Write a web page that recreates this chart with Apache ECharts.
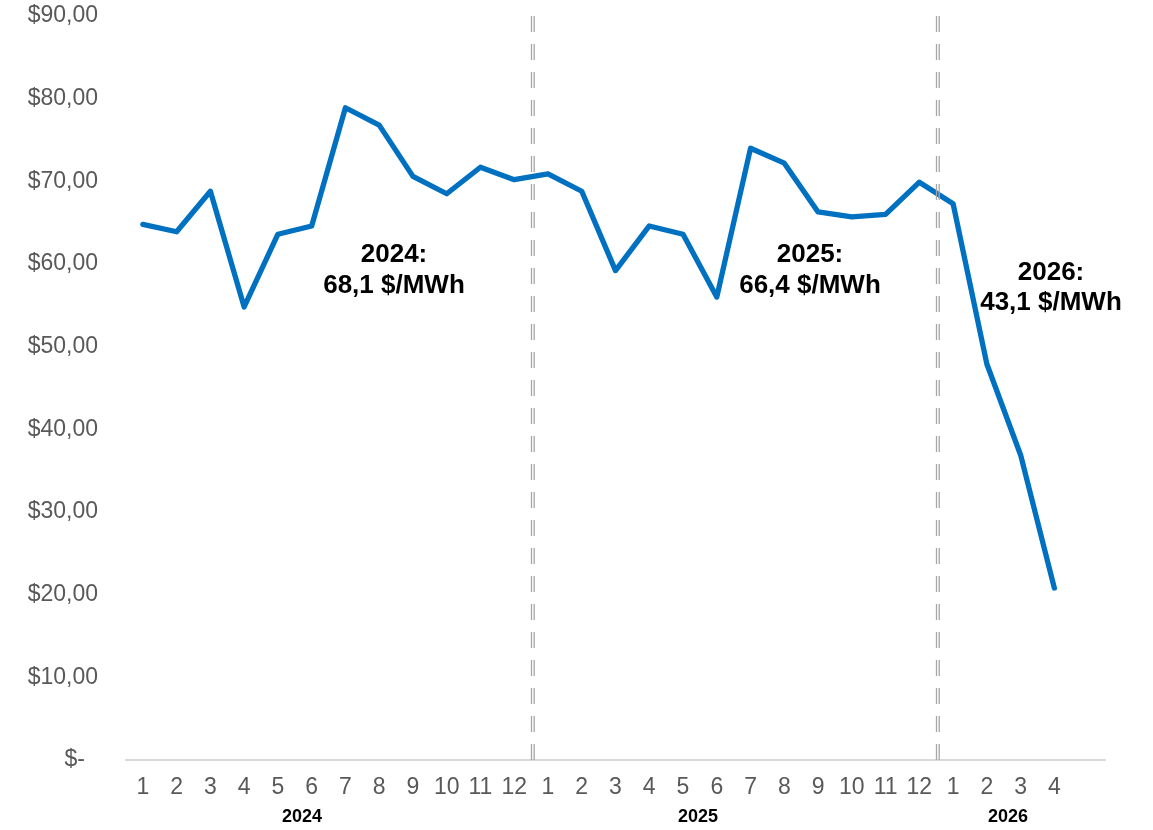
<!DOCTYPE html>
<html>
<head>
<meta charset="utf-8">
<script src="https://cdn.jsdelivr.net/npm/echarts@6/dist/echarts.min.js"></script>
<style>html,body{margin:0;padding:0;background:#fff;}#chart{width:1153px;height:830px;}</style>
</head>
<body>
<div id="chart"></div>
<script>
const months = ['1','2','3','4','5','6','7','8','9','10','11','12','1','2','3','4','5','6','7','8','9','10','11','12','1','2','3','4',''];
const y2024 = [64.8, 63.9, 68.8, 54.8, 63.6, 64.6, 78.9, 76.8, 70.6, 68.5, 71.7, 70.2];
const y2025 = [70.9, 68.8, 59.2, 64.6, 63.6, 56.0, 74.0, 72.2, 66.3, 65.7, 66.0, 69.9];
const y2026 = [67.3, 47.9, 36.9, 20.8];
const yearLabels = ['2024', '2025', '2026'];
const averages = ['2024:\n68,1 $/MWh', '2025:\n66,4 $/MWh', '2026:\n43,1 $/MWh'];
const separators = [12, 24];

const values = y2024.concat(y2025, y2026, [null]);
const FONT = '"Liberation Sans", Arial, sans-serif';

const chart = echarts.init(document.getElementById('chart'), null, {renderer: 'canvas'});
chart.setOption({
  animation: false,
  backgroundColor: '#ffffff',
  grid: {left: 126, right: 48, top: 16, bottom: 70, containLabel: false},
  xAxis: [{
    type: 'category',
    data: months,
    boundaryGap: true,
    axisLine: {lineStyle: {color: '#d9d9d9', width: 2}},
    axisTick: {show: false},
    axisLabel: {color: '#595959', fontSize: 23, fontFamily: FONT, margin: 16, interval: 0}
  }, {
    type: 'value', min: 0, max: 29, show: false
  }],
  yAxis: {
    type: 'value', min: 0, max: 90, interval: 10,
    splitLine: {show: false},
    axisLine: {show: false}, axisTick: {show: false},
    axisLabel: {
      color: '#595959', fontSize: 23, fontFamily: FONT, margin: 28,
      formatter: v => v === 0 ? '{z|$-}' : '$' + v.toFixed(2).replace('.', ','),
      rich: {z: {color: '#595959', fontSize: 23, fontFamily: FONT, padding: [0, 13, 0, 0]}}
    }
  },
  series: [{
    type: 'line',
    data: values,
    xAxisIndex: 0,
    symbol: 'none',
    lineStyle: {color: '#0070C0', width: 5.3, join: 'round', cap: 'round'},
    z: 3
  }, {
    type: 'line',
    xAxisIndex: 1,
    data: [],
    markLine: {
      silent: true, symbol: 'none', label: {show: false},
      lineStyle: {color: '#a6a6a6', width: 1.3, type: [16, 12], shadowColor: '#a6a6a6', shadowBlur: 0, shadowOffsetX: 2.7},
      data: separators.map(s => ({xAxis: s}))
    },
    z: 2
  }],
  graphic: [
    {type: 'text', x: 302, y: 817, style: {text: yearLabels[0], fill: '#000', font: 'bold 18px ' + FONT, align: 'center', verticalAlign: 'middle'}},
    {type: 'text', x: 698, y: 817, style: {text: yearLabels[1], fill: '#000', font: 'bold 18px ' + FONT, align: 'center', verticalAlign: 'middle'}},
    {type: 'text', x: 1008, y: 817, style: {text: yearLabels[2], fill: '#000', font: 'bold 18px ' + FONT, align: 'center', verticalAlign: 'middle'}},
    {type: 'text', x: 394, y: 270, style: {text: averages[0], fill: '#000', font: 'bold 26px ' + FONT, align: 'center', verticalAlign: 'middle', lineHeight: 31}, z: 10},
    {type: 'text', x: 810, y: 270, style: {text: averages[1], fill: '#000', font: 'bold 26px ' + FONT, align: 'center', verticalAlign: 'middle', lineHeight: 31}, z: 10},
    {type: 'text', x: 1051, y: 288, style: {text: averages[2], fill: '#000', font: 'bold 26px ' + FONT, align: 'center', verticalAlign: 'middle', lineHeight: 30}, z: 10}
  ]
});
</script>
</body>
</html>
